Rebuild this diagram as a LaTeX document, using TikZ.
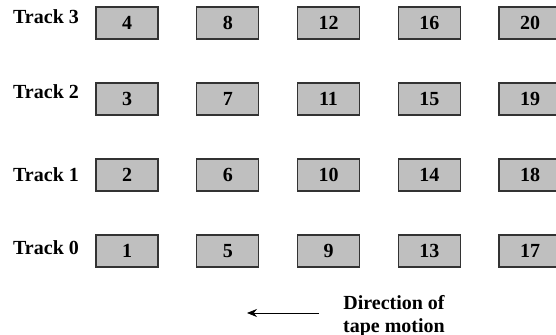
\documentclass[tikz,border=0pt]{standalone}
\usepackage{fontspec}
\setmainfont{Liberation Serif}
\usetikzlibrary{positioning, arrows.meta}

\begin{document}
\begin{tikzpicture}[x=0.5pt, y=-0.5pt,
  font=\bfseries\fontsize{10}{11.5}\selectfont,
  sector/.style={draw=black!80, fill=gray!50, line width=0.6pt,
    minimum width=31pt, minimum height=16pt, inner sep=0pt}]
  \useasboundingbox (0,0) rectangle (556,335);
  \clip (0,0) rectangle (556,335);
  % Tracks and their sectors
  \foreach \tr/\y/\ly in {0/251/248, 1/175/175, 2/99/92, 3/23/17} {
    \node (track\tr) at (46,\ly) {Track \tr};
    \foreach \col in {0,...,4} {
      \pgfmathtruncatemacro\n{4*\col+\tr+1}
      \node[sector] (s\n) at (127+100.75*\col,\y) {\n};
    }
  }
  % Direction of tape motion
  \node[align=center] (motion) at (394,316) {Direction of\\tape motion};
  \coordinate (tail) at (319,313);
  \coordinate (head) at (247,313);
  \draw[-{Stealth[length=5pt, width=4pt]}] (tail) -- (head);
\end{tikzpicture}
\end{document}
